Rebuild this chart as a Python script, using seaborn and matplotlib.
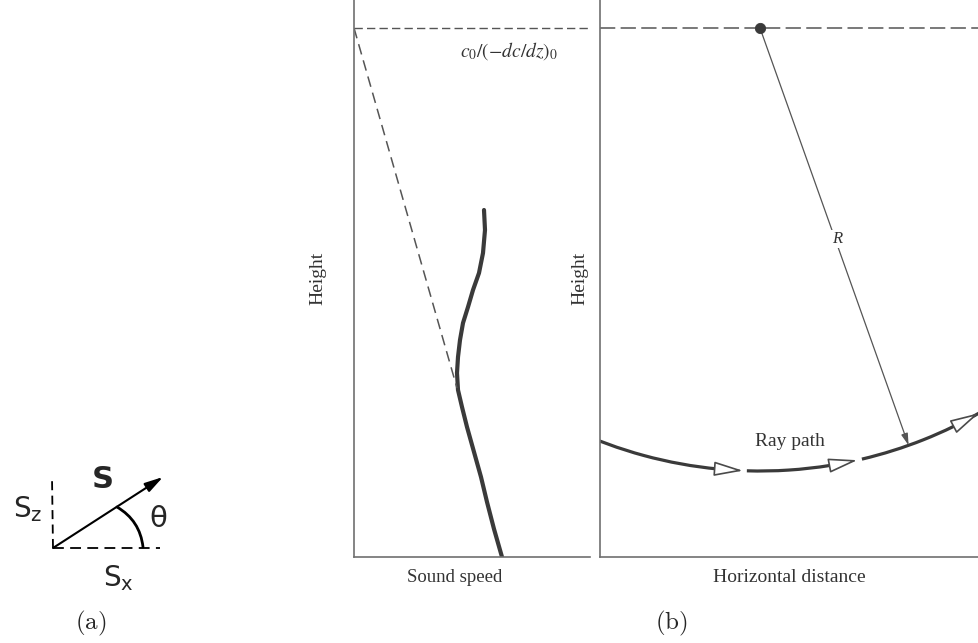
import numpy as np
import matplotlib.pyplot as plt
from matplotlib.patches import Arc
import seaborn as sns

sns.set_style("white")

# ---- panel (a): vector S with its components (sketch units = pixels, y down)
vec_origin = (53, 548)
vec_tip = (163, 477)
sz_top = 477          # top of the dashed S_z component
sx_end = 160          # end of the dashed S_x component
theta_arc = [(143, 547), (117, 507)]

# ---- panel (b) left: sound speed profile (units from the axes origin)
profile_speed = [130, 131, 129, 125, 119, 114, 109, 106, 104, 103, 104, 108, 113, 120, 127, 133, 140, 148]
profile_height = [347, 327, 304, 284, 267, 250, 234, 217, 200, 184, 167, 150, 130, 105, 80, 55, 28, 0]
tangent_speed = [0, 103]
tangent_height = [529, 169]
top_height = 529

# ---- panel (b) right: circular ray path of radius R
ray_center = (160, 529)
ray_radius = 443
ray_segments = [(245, 264.6), (268.3, 279.1), (283.3, 300.0)]   # degrees
ray_arrows = [(264.6, 267.8), (279.1, 282.7), (296.4, 299.6)]
r_angle = 289.6

ink = "#3a3a3a"
text_col = "#333333"
spine_col = "#707070"
serif = "Liberation Serif"

fig = plt.figure(figsize=(9.79, 6.43), dpi=100)

# overlay axes in pixel units for panel (a) and the captions
ax0 = fig.add_axes([0, 0, 1, 1])
ax0.set_xlim(0, 979)
ax0.set_ylim(643, 0)
ax0.axis("off")

ax0.plot([vec_origin[0], vec_origin[0] - 1], [vec_origin[1], sz_top], color="black",
         lw=1.3, dashes=(5, 3))
ax0.plot([vec_origin[0], sx_end], [vec_origin[1], vec_origin[1]], color="black",
         lw=1.3, dashes=(6, 3.5))
ax0.annotate("", xy=vec_tip, xytext=vec_origin,
             arrowprops=dict(arrowstyle="-|>,head_length=1.1,head_width=0.3",
                             mutation_scale=10, color="black", lw=1.5,
                             shrinkA=0, shrinkB=0))
ax0.annotate("", xy=theta_arc[1], xytext=theta_arc[0],
             arrowprops=dict(arrowstyle="-", connectionstyle="arc3,rad=0.25",
                             color="black", lw=2.0, shrinkA=0, shrinkB=0))
ax0.text(103, 479, "S", fontsize=22, fontweight="bold", ha="center", va="center",
         family="DejaVu Sans")
ax0.text(28, 509, r"$\mathrm{S_z}$", fontsize=20, ha="center", va="center",
         math_fontfamily="dejavusans")
ax0.text(158, 519, "θ", fontsize=21, ha="center", va="center", family="DejaVu Sans")
ax0.text(118, 578, r"$\mathrm{S_x}$", fontsize=20, ha="center", va="center",
         math_fontfamily="dejavusans")
ax0.text(91, 623, r"$\mathrm{(a)}$", fontsize=18, ha="center", va="center",
         math_fontfamily="cm")
ax0.text(671, 623, r"$\mathrm{(b)}$", fontsize=18, ha="center", va="center",
         math_fontfamily="cm")

# ---- sound speed panel
ax1 = fig.add_axes([354 / 979, 86 / 643, 236 / 979, 557 / 643])
ax1.set_xlim(0, 236)
ax1.set_ylim(0, 557)
sns.lineplot(x=profile_speed, y=profile_height, sort=False, estimator=None,
             color=ink, lw=3.0, ax=ax1)
ax1.plot([0, 236], [top_height, top_height], color="#555555", lw=1.0, dashes=(6, 3))
ax1.plot(tangent_speed, tangent_height, color="#555555", lw=1.1, dashes=(7, 4))
ax1.text(204, 506, r"$c_0/(-dc/dz)_0$", fontsize=14, ha="right", va="center",
         color=text_col, math_fontfamily="stix")
ax1.set_xticks([])
ax1.set_yticks([])
ax1.text(101, -20, "Sound speed", family=serif, fontsize=13.5, color=text_col,
         ha="center", va="center", clip_on=False)
ax1.set_ylabel("Height", family=serif, fontsize=14, color=text_col, labelpad=20)

# ---- ray path panel
ax2 = fig.add_axes([600 / 979, 86 / 643, 379 / 979, 557 / 643])
ax2.set_xlim(0, 379)
ax2.set_ylim(0, 557)
ax2.plot([0, 379], [top_height, top_height], color="#555555", lw=1.1, dashes=(10, 3.5))
for t1, t2 in ray_segments:
    ax2.add_patch(Arc(ray_center, 2 * ray_radius, 2 * ray_radius, theta1=t1, theta2=t2,
                      color=ink, lw=2.3))


def on_ray(angle):
    a = np.deg2rad(angle)
    return (ray_center[0] + ray_radius * np.cos(a), ray_center[1] + ray_radius * np.sin(a))


for a1, a2 in ray_arrows:
    ax2.annotate("", xy=on_ray(a2), xytext=on_ray(a1), annotation_clip=False,
                 arrowprops=dict(arrowstyle="-|>,head_length=1.8,head_width=0.45",
                                 mutation_scale=10, fc="white", ec="#4a4a4a", lw=1.2,
                                 shrinkA=0, shrinkB=0, clip_on=False))
ax2.annotate("", xy=on_ray(r_angle), xytext=ray_center,
             arrowprops=dict(arrowstyle="-|>,head_length=0.7,head_width=0.2",
                             mutation_scale=10, color="#555555", lw=0.9,
                             shrinkA=0, shrinkB=0))
sns.scatterplot(x=[ray_center[0]], y=[ray_center[1]], s=55, color=ink,
                edgecolor=ink, ax=ax2, zorder=5)
ax2.text(237, 318, "R", fontsize=12, style="italic", family=serif, ha="center",
         va="center", color=text_col, zorder=6,
         bbox=dict(fc="white", ec="none", pad=0.5))
ax2.text(190, 116, "Ray path", fontsize=14, family=serif, ha="center", va="center",
         color=text_col)
ax2.set_xticks([])
ax2.set_yticks([])
ax2.text(189, -20, "Horizontal distance", family=serif, fontsize=14, color=text_col,
         ha="center", va="center", clip_on=False)
ax2.set_ylabel("Height", family=serif, fontsize=14, color=text_col, labelpad=8)

for ax in (ax1, ax2):
    for side in ("top", "right"):
        ax.spines[side].set_visible(False)
    for side in ("left", "bottom"):
        ax.spines[side].set_color(spine_col)
        ax.spines[side].set_linewidth(1.2)

fig.savefig("out.png", dpi=100)
